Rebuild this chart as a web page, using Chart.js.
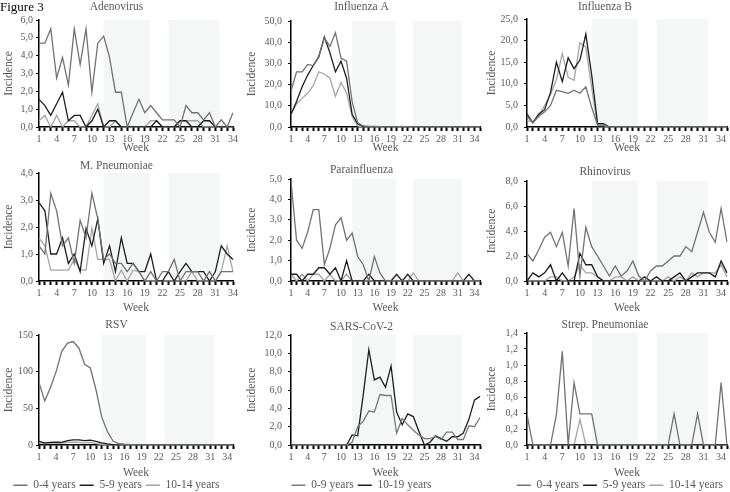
<!DOCTYPE html>
<html lang="en">
<head>
<meta charset="utf-8">
<title>Figure 3</title>
<script src="https://cdn.jsdelivr.net/npm/chart.js@4.4.0/dist/chart.umd.min.js"></script>
<style>
  html, body { margin: 0; padding: 0; background: #fff; overflow: hidden; }
  body { width: 730px; height: 492px; position: relative; }
  .panel { position: absolute; }
  #fig { position: absolute; left: 0; top: 0; font: 13px "Liberation Serif", serif; line-height: 13px; color: #000; z-index: 5; }
</style>
</head>
<body>
<div id="fig">Figure 3</div>

<script>
// weeks on the x axis
const weeks = [1,2,3,4,5,6,7,8,9,10,11,12,13,14,15,16,17,18,19,20,21,22,23,24,25,26,27,28,29,30,31,32,33,34,35];
// weeks shaded in grey (from, to)
const shadeWeeks = [[12, 19.8], [23, 31.7]];

// incidence per age group
const adeno04   = [4.7,4.7,5.5,2.75,3.9,2.35,5.5,3.5,5.5,1.95, 4.7,5.1,3.9,1.95,1.95,0,0.8,1.55,0.8,1.2, 0.8,0.4,0.4,0.4,0,1.2,0.8,0.8,0.4,0.8, 0,0.4,0,0.8];
const adeno59   = [1.55,1.2,0.65,1.3,1.95,0.35,0.65,0.65,0,0.35, 1.0,0,0.35,0.35,0,0,0,0,0,0, 0.35,0,0,0,0.35,0.35,0,0,0.35,0.35, 0,0,0,0];
const adeno1014 = [0.35,0.65,0,0.65,0,0.35,0.35,0,0,0.65, 1.3,0,0,0.35,0,0,0,0,0,0.35, 0.35,0,0,0,0.35,0.35,0.35,0.35,0,0, 0,0,0,0];

const fluA04   = [17,26,26,29.5,29,33.5,42,38,44.5,32.5, 31,12,2,0.5,0.3,0.3,0.2,0,0,0, 0.3,0,0,0,0,0,0,0,0,0, 0,0,0,0,0];
const fluA59   = [6,12,19,24.5,29,33,42.5,35,26,31, 23,6,1.5,0.2,0,0,0,0,0,0, 0,0,0,0,0,0,0,0,0,0, 0,0,0,0,0];
const fluA1014 = [6,11,13.5,16,19.5,26,25,23,14.5,21, 16,5,0.5,0,0,0,0,0,0,0, 0,0,0,0,0,0,0,0,0,0, 0,0,0,0,0];

const fluB04   = [2.5,1,2.5,3.5,5,8.5,8.2,7.8,8.5,7.8, 9.3,4.5,0.5,0.5,0,0,0,0,0,0, 0,0,0,0,0,0,0,0,0,0, 0,0,0,0,0];
const fluB59   = [3,1,3,4,8,15,10.5,16,13.5,15.5, 21.5,12,0.8,0.8,0,0,0,0,0,0, 0,0,0,0,0,0,0,0,0,0, 0,0,0,0,0];
const fluB1014 = [1.5,1.2,2.5,5,7.5,11,17,11.5,10.8,19.5, 18.5,9,0.3,0.3,0,0,0,0,0,0, 0,0,0,0,0,0,0,0,0,0, 0,0,0,0,0];

const mpn04   = [1.3,1.0,3.25,2.6,1.3,1.6,0.65,2.25,1.6,3.25, 2.3,0.8,1.0,0.65,0.65,0.35,0.65,0.35,0,0.35, 0,0.35,0.35,0.8,0,0.35,0.35,0.35,0,0.35, 0,0.35,0.35,0.35];
const mpn59   = [2.9,2.6,1.0,1.0,1.6,0.65,1.0,0.35,1.95,1.3, 2.3,0.65,1.3,0.35,1.6,0.65,0.65,0.35,0.35,1.0, 0,0,0.35,0,0.35,0.65,0.35,0.35,0.35,0, 0.35,1.3,1.0,0.8];
const mpn1014 = [1.6,1.3,0.4,0.4,0.4,0.4,0.8,0.4,0.4,1.95, 0.8,0.8,0.8,0,0.4,0,0.4,0.35,0,0, 0,0,0,0,0,0,0.35,0,0,0, 0,0.35,1.3,0.35];

const para04   = [4.9,2.0,1.6,2.4,3.5,3.5,0.8,1.6,2.75,3.1, 2.0,2.35,1.2,0.8,0,1.2,0.4,0,0,0, 0,0,0,0,0,0,0,0,0,0, 0,0,0,0,0];
const para59   = [0.33,0.33,0,0.33,0.33,0.65,0.65,0.33,0.65,0, 1.0,0,0,0,0.33,0,0,0,0,0.33, 0,0.33,0,0,0,0,0,0,0,0, 0,0,0.33,0,0];
const para1014 = [0.33,0,0.33,0,0.33,0.33,0,0.33,0,0, 0.33,0,0,0,0,0,0,0,0,0, 0,0,0.4,0,0,0,0,0,0,0, 0.4,0,0,0,0];

const rhino04   = [2.2,1.6,2.5,3.5,3.9,2.75,3.9,1.2,5.8,0.4, 4.3,2.75,2.0,1.2,0.4,1.2,0.4,0.8,1.6,0.4, 0,0.8,1.2,1.2,1.6,2.0,2.0,2.75,2.35,3.9, 5.5,3.9,3.1,5.8,3.1];
const rhino59   = [0,0.65,0.33,0.65,1.3,0,0.65,0,0,2.2, 1.3,1.3,0.33,0,0,0,0,0,0,0, 0.33,0,0.33,0,0,0.33,0.65,0,0.33,0.65, 0.65,0.65,0.33,1.6,0.65];
const rhino1014 = [0,0,0,0,0.33,0.33,0,0,0.33,1.3, 0.65,0.65,0.33,0,0,0.33,0.33,0,0.33,0, 0,0,0,0,0.33,0,0.33,0,0.65,0.33, 0.65,0.65,0.65,1.3,0.33];

const rsv04   = [85,60,78,100,128,139,141,132,110,105, 75,38,18,5,2,1,0.5,0,0,0, 0,0,0,0,0,0,0,0,0,0, 0,0,0,0,0];
const rsv59   = [5,3,3.5,4,3.5,6,7,7,6,6.5, 5,3,1.5,0.5,0.2,0,0,0,0,0, 0,0,0,0,0,0,0,0,0,0, 0,0,0,0,0];
const rsv1014 = [3,2,2.5,3,2.5,3.5,4,3.5,3,3.5, 2,1,0.5,0,0,0,0,0,0,0, 0,0,0,0,0,0,0,0,0,0, 0,0,0,0,0];

const sars09   = [0,0,0,0,0,0,0,0,0,0, 0,0.3,2.0,2.6,3.7,3.6,5.5,5.4,5.4,1.3, 2.9,2.2,1.6,1.1,0.7,0.7,0.9,0.6,1.4,1.4, 0.6,0.6,2.1,2.0,3.0];
const sars1019 = [0,0,0,0,0,0,0,0,0,0, 0,1.1,1.0,5.5,10.4,7.1,7.4,6.3,8.6,3.6, 2.2,3.4,3.1,1.5,0,0.3,1.0,0.7,0.4,0.9, 0.9,1.3,2.8,4.9,5.3];

const strep04   = [0.38,0,0,0,0,0.38,1.17,0,0.78,0.39, 0.39,0.39,0,0,0,0,0,0,0,0, 0,0,0,0,0,0.39,0,0,0,0.39, 0,0,0,0.78,0];
const strep59   = [0,0,0,0,0,0,0,0,0,0, 0,0,0,0,0,0,0,0,0,0, 0,0,0,0,0,0,0,0,0,0, 0,0,0,0,0];
const strep1014 = [0,0,0,0,0,0,0,0,0,0.32, 0,0,0,0,0,0,0,0,0,0, 0,0,0,0,0,0,0,0,0,0, 0,0,0,0,0];

const C04 = '#727272', C59 = '#1e1e1e', C1014 = '#a5a5a5';
const GREY = '#595959';

Chart.defaults.font.family = '"Liberation Serif", "Times New Roman", serif';
Chart.defaults.color = GREY;

// page layout: columns / rows of the grid (pixels)
const cols = [
  { x: 0,   w: 243, left: 39, padR: 10, tickPad: 3, legendAlign: 'center' },
  { x: 243, w: 240, left: 48, padR: 3,  tickPad: 6, legendAlign: 'center' },
  { x: 483, w: 247, left: 44, padR: 3,  tickPad: 6, legendAlign: 'end' }
];
const rows = [
  { y: 0,   h: 155, xh: 28 },
  { y: 152, h: 163, xh: 34 },
  { y: 312, h: 189, xh: 30.5 }
];

const kids = (a, b, c) => [['0-4 years', a, C04], ['5-9 years', b, C59], ['10-14 years', c, C1014]];

const panels = [
  { title: 'Adenovirus',        col: 0, row: 0, n: 34, max: 6,   step: 1,   titleY: 6,  top: 20, sets: kids(adeno04, adeno59, adeno1014) },
  { title: 'Influenza A',       col: 1, row: 0, n: 35, max: 50,  step: 10,  titleY: 7,  top: 21, sets: kids(fluA04, fluA59, fluA1014) },
  { title: 'Influenza B',       col: 2, row: 0, n: 35, max: 25,  step: 5,   titleY: 7,  top: 19, sets: kids(fluB04, fluB59, fluB1014) },
  { title: 'M. Pneumoniae',     col: 0, row: 1, n: 34, max: 4,   step: 1,   titleY: 14, top: 21, sets: kids(mpn04, mpn59, mpn1014) },
  { title: 'Parainfluenza',     col: 1, row: 1, n: 35, max: 5,   step: 1,   titleY: 18, top: 27, sets: kids(para04, para59, para1014) },
  { title: 'Rhinovirus',        col: 2, row: 1, n: 35, max: 8,   step: 2,   titleY: 20, top: 29, sets: kids(rhino04, rhino59, rhino1014) },
  { title: 'RSV',               col: 0, row: 2, n: 35, max: 150, step: 50,  titleY: 13, top: 23, int: true, sets: kids(rsv04, rsv59, rsv1014) },
  { title: 'SARS-CoV-2',        col: 1, row: 2, n: 35, max: 12,  step: 2,   titleY: 15, top: 23, sets: [['0-9 years', sars09, '#7a7a7a'], ['10-19 years', sars1019, C59]] },
  { title: 'Strep. Pneumoniae', col: 2, row: 2, n: 35, max: 1.4, step: 0.2, titleY: 13, top: 21, sets: kids(strep04, strep59, strep1014) }
];

// light grey bands behind the lines
const shadePlugin = {
  id: 'shade',
  beforeDatasetsDraw(chart) {
    const { ctx, chartArea: a, scales: { x } } = chart;
    ctx.save();
    ctx.fillStyle = '#f5f7f6';
    shadeWeeks.forEach(([from, to]) => {
      const x0 = x.getPixelForValue(from - 1);
      const x1 = Math.min(x.getPixelForValue(to - 1), a.right);
      ctx.fillRect(x0, a.top, x1 - x0, a.bottom - a.top - 1);
    });
    ctx.restore();
  }
};

const TITLE_LH = 11.5 * 1.2;

panels.forEach(p => {
  const col = cols[p.col], row = rows[p.row];
  const box = document.createElement('div');
  box.className = 'panel';
  box.style.left = col.x + 'px';
  box.style.top = row.y + 'px';
  const cv = document.createElement('canvas');
  cv.width = col.w;
  cv.height = row.h;
  box.appendChild(cv);
  document.body.appendChild(box);

  const padTop = Math.max(0, p.titleY - TITLE_LH / 2);
  const padBottom = Math.max(0, p.top - padTop - TITLE_LH);

  new Chart(cv, {
    type: 'line',
    data: {
      labels: weeks.slice(0, p.n),
      datasets: p.sets.map(([label, data, color]) => ({
        label: label,
        data: data,
        borderColor: color,
        backgroundColor: color,
        borderWidth: 1.3,
        pointRadius: 0,
        tension: 0
      }))
    },
    options: {
      responsive: false,
      animation: false,
      layout: { padding: { left: 0, right: col.padR, top: 0, bottom: 0 } },
      plugins: {
        title: {
          display: true, text: p.title, color: GREY,
          font: { size: 11.5, weight: 'normal' },
          padding: { top: padTop, bottom: padBottom }
        },
        legend: {
          display: p.row === 2,
          position: 'bottom',
          align: col.legendAlign,
          labels: {
            usePointStyle: true, pointStyle: 'line', pointStyleWidth: 14,
            font: { size: 11.5 }, color: GREY, padding: 4
          }
        },
        tooltip: { enabled: false }
      },
      scales: {
        x: {
          ticks: {
            autoSkip: false, maxRotation: 0, minRotation: 0, padding: 2,
            font: { size: 10 }, color: GREY,
            callback: function (v, i) { return i % 3 === 0 ? this.getLabelForValue(v) : ''; }
          },
          grid: { drawOnChartArea: false, tickLength: 4, tickWidth: 2, tickColor: '#000' },
          border: { color: '#000', width: 1.5 },
          title: { display: true, text: 'Week', color: GREY, font: { size: 11.5 },
                   padding: { top: 0, bottom: p.row === 2 ? -4 : 0 } },
          afterFit: s => { s.height = row.xh; }
        },
        y: {
          min: 0, max: p.max,
          ticks: {
            stepSize: p.step, padding: col.tickPad, font: { size: 10 }, color: GREY,
            callback: v => p.int ? String(v) : v.toFixed(1).replace('.', ',')
          },
          grid: { drawOnChartArea: false, tickLength: 3, tickColor: '#000' },
          border: { color: '#000', width: 1.5 },
          title: { display: true, text: 'Incidence', color: GREY, font: { size: 11.5 }, padding: { top: 2, bottom: 0 } },
          afterFit: s => { s.width = col.left; }
        }
      }
    },
    plugins: [shadePlugin]
  });
});
</script>
</body>
</html>
